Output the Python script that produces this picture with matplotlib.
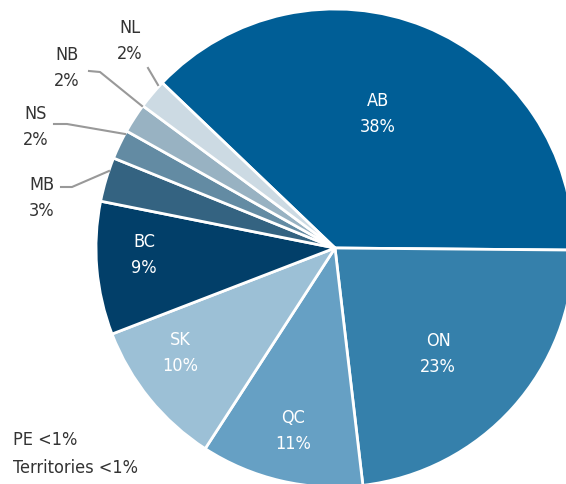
import matplotlib.pyplot as plt
from matplotlib import font_manager

# dados do gráfico
provinces = ['AB', 'ON', 'QC', 'SK', 'BC', 'MB', 'NS', 'NB', 'NL']
shares = [38, 23, 11, 10, 9, 3, 2, 2, 2]
colors = ['#005e96', '#3580ab', '#66a0c4', '#9cc0d6', '#023f69',
          '#346381', '#638ba3', '#98b2c2', '#ccdae3']
footnotes = ['PE <1%', 'Territories <1%']

# escolher uma fonte estreita se houver
fonts = font_manager.fontManager.ttflist
narrow = [f for f in fonts if f.stretch in ('condensed', 'semi-condensed', 'extra-condensed')
          or 'Condensed' in f.name or 'Narrow' in f.name]
if narrow:
    font = dict(family=[narrow[0].name, 'DejaVu Sans'], stretch=narrow[0].stretch, weight='normal')
elif any(f.name == 'Open Sans' for f in fonts):
    font = dict(family=['Open Sans', 'DejaVu Sans'], weight='light')
else:
    font = dict(family=['DejaVu Sans'])

W, H = 566, 485
fig = plt.figure(figsize=(W / 100, H / 100), dpi=100)
ax = fig.add_axes([0, 0, 1, 1])

cx, cy, R = 335, H - 249, 239
wedges, _ = ax.pie(shares, colors=colors, startangle=136.3, counterclock=False,
                   center=(cx, cy), radius=R,
                   wedgeprops=dict(edgecolor='white', linewidth=2))
ax.set_xlim(0, W)
ax.set_ylim(0, H)
ax.set_aspect('equal')
ax.axis('off')

# rótulos dentro das fatias (posição em pixels a partir do topo)
inner = {'AB': (378, 114), 'ON': (438, 354), 'QC': (293, 431),
         'SK': (180, 353), 'BC': (144, 255)}
for name, val in zip(provinces, shares):
    if name not in inner:
        continue
    x, y = inner[name]
    ax.text(x, H - y, f'{name}\n{val}%', color='white', ha='center', va='center',
            fontsize=13, linespacing=1.6, **font)

# rótulos externos com linhas guia
outer = {
    'NL': ((130, 41), [(148, 69), (158, 86)]),
    'NB': ((67, 68), [(89, 72), (100, 73), (142, 107)]),
    'NS': ((36, 127), [(54, 125), (67, 125), (125, 135)]),
    'MB': ((42, 198), [(61, 188), (72, 188), (109, 172)]),
}
for name, val in zip(provinces, shares):
    if name not in outer:
        continue
    (tx, ty), pts = outer[name]
    ax.text(tx, H - ty, f'{name}\n{val}%', color='#333333', ha='center', va='center',
            fontsize=13, linespacing=1.6, **font)
    ax.plot([p[0] for p in pts], [H - p[1] for p in pts], color='#999999', lw=1.5)

for i, note in enumerate(footnotes):
    ax.text(13, H - 440 - i * 28, note, color='#333333', ha='left', va='center',
            fontsize=13, **font)

fig.savefig('out.png', dpi=100)
